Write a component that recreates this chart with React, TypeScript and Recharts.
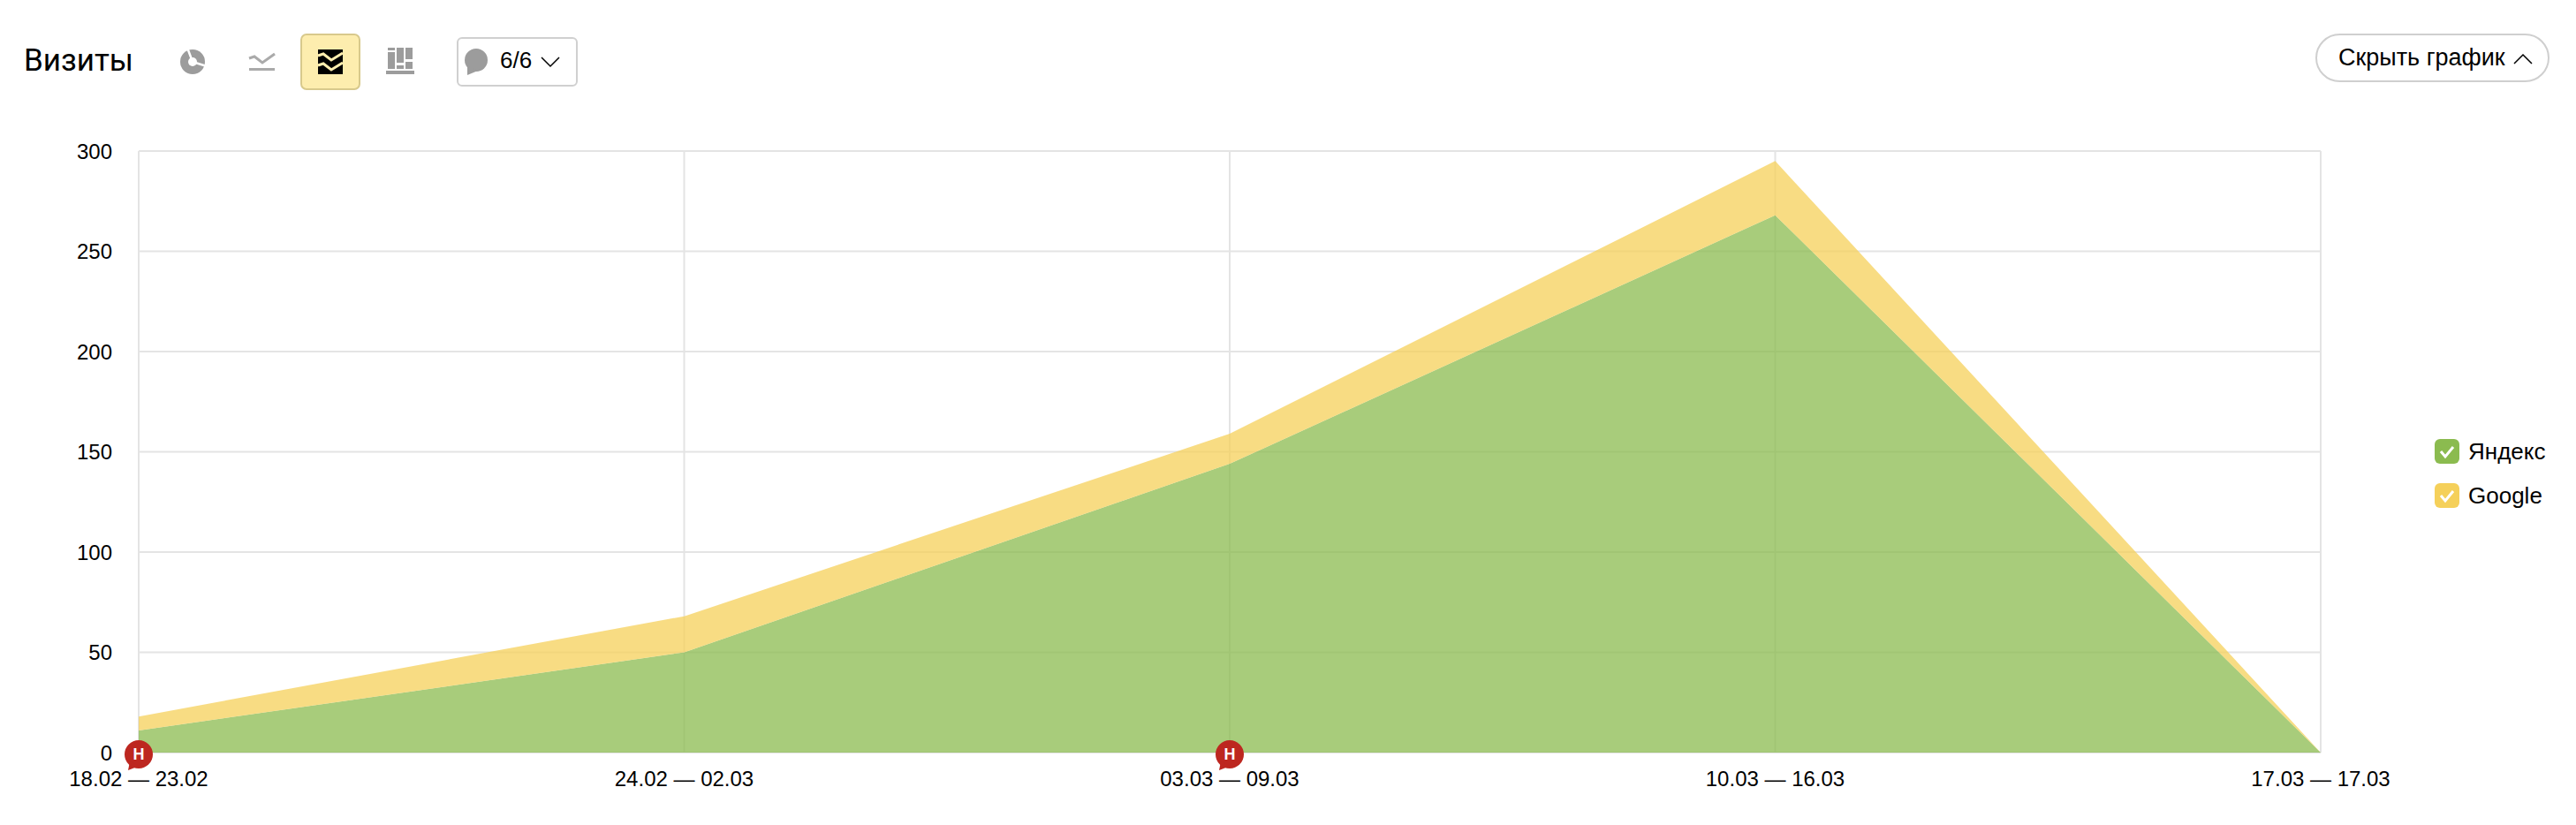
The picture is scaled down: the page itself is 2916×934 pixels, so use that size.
import { AreaChart, Area, XAxis, YAxis, CartesianGrid, Legend, ReferenceDot } from "recharts";

const periods = ["18.02 — 23.02", "24.02 — 02.03", "03.03 — 09.03", "10.03 — 16.03", "17.03 — 17.03"];
const yandexVisits = [11, 50, 144, 268, 0];
const googleVisits = [7, 18, 15, 27, 0];
const yTicks = [0, 50, 100, 150, 200, 250, 300];
const notePeriods = ["18.02 — 23.02", "03.03 — 09.03"];

const GREEN = "#8bbb4f";
const YELLOW = "#f5d05a";
const FONT = "'Liberation Sans', Arial, sans-serif";

const data = periods.map((period, i) => ({
    period,
    yandex: yandexVisits[i],
    google: googleVisits[i],
}));

function NoteMarker({ cx, cy }: any) {
    return (
        <g>
            <circle cx={cx} cy={cy + 2} r={16} fill="#bd2720" />
            <path d={`M${cx - 10} ${cy + 10} L${cx - 12} ${cy + 20} L${cx + 1} ${cy + 15} Z`} fill="#bd2720" />
            <text x={cx} y={cy + 8} textAnchor="middle" fontSize={18} fontWeight={700} fontFamily={FONT} fill="#fff">
                Н
            </text>
        </g>
    );
}

function SeriesLegend({ payload }: any) {
    return (
        <div style={{ fontFamily: FONT, fontSize: 26, color: "#000" }}>
            {(payload || []).map((entry: any) => (
                <div key={entry.value} style={{ display: "flex", alignItems: "center", height: 28, marginBottom: 22 }}>
                    <svg width={28} height={28} style={{ marginRight: 10 }}>
                        <rect width={28} height={28} rx={6} fill={entry.color} />
                        <path d="M7 14 L12 20 L21 9" fill="none" stroke="#fff" strokeWidth={3} />
                    </svg>
                    {entry.value}
                </div>
            ))}
        </div>
    );
}

function Header() {
    return (
        <div style={{ fontFamily: FONT, color: "#000" }}>
            <div style={{ position: "absolute", left: 27, top: 49, fontSize: 35, lineHeight: "40px", fontFamily: "Roboto, sans-serif" }}>
                Визиты
            </div>

            <svg width={700} height={110} style={{ position: "absolute", left: 0, top: 0 }}>
                {/* pie */}
                <circle cx={218} cy={70} r={14} fill="#9c9c9c" />
                <circle cx={218} cy={70} r={5} fill="#fff" />
                <path d="M218 70 L212 54 M218 70 L234 75" stroke="#fff" strokeWidth={2.5} />
                {/* line */}
                <path d="M282 66 L288 64 L297 71 L311 61" fill="none" stroke="#aaa" strokeWidth={3} />
                <rect x={282} y={77} width={29} height={3} fill="#aaa" />
                {/* active stacked */}
                <rect x={341} y={39} width={66} height={62} rx={6} fill="#fdedae" stroke="#d8c98c" strokeWidth={2} />
                <rect x={360} y={56} width={28} height={28} fill="#000" />
                <path d="M360 63 L366 61 L375 68 L388 60 M360 74 L366 72 L375 79 L388 71" fill="none" stroke="#fdedae" strokeWidth={3} />
                {/* bars */}
                <g fill="#9c9c9c">
                    <rect x={439} y={54} width={8} height={3} />
                    <rect x={439} y={59} width={8} height={19} />
                    <rect x={449} y={54} width={8} height={17} />
                    <rect x={449} y={74} width={8} height={4} />
                    <rect x={459} y={54} width={8} height={13} />
                    <rect x={459} y={70} width={8} height={8} />
                    <rect x={437} y={80} width={32} height={4} />
                </g>
                {/* notes dropdown */}
                <rect x={518} y={43} width={135} height={54} rx={5} fill="#fff" stroke="#d0d0d0" strokeWidth={2} />
                <circle cx={539} cy={68} r={13} fill="#9c9c9c" />
                <path d="M529 75 L529 85 L541 80 Z" fill="#9c9c9c" />
                <path d="M613 65 L623 75 L633 65" fill="none" stroke="#000" strokeWidth={1.5} />
            </svg>
            <div style={{ position: "absolute", left: 566, top: 53, fontSize: 26, lineHeight: "30px" }}>6/6</div>

            <div
                style={{
                    position: "absolute",
                    left: 2621,
                    top: 38,
                    width: 261,
                    height: 51,
                    border: "2px solid #cfcfcf",
                    borderRadius: 28,
                    boxSizing: "content-box",
                    fontSize: 27,
                    lineHeight: "50px",
                }}
            >
                <span style={{ position: "absolute", left: 24, top: 0, whiteSpace: "nowrap" }}>Скрыть график</span>
                <svg width={24} height={14} style={{ position: "absolute", left: 221, top: 20 }}>
                    <path d="M2 12 L12 2 L22 12" fill="none" stroke="#000" strokeWidth={1.5} />
                </svg>
            </div>
        </div>
    );
}

export default function App() {
    return (
        <div style={{ position: "absolute", left: 0, top: 0, width: 2916, height: 934, background: "#fff" }}>
            <AreaChart
                width={2916}
                height={934}
                data={data}
                margin={{ top: 171, right: 129, bottom: 52, left: 0 }}
            >
                <CartesianGrid stroke="#e4e4e4" strokeWidth={2} />
                <XAxis
                    dataKey="period"
                    interval={0}
                    axisLine={false}
                    tickLine={false}
                    tickMargin={15}
                    tick={{ fontSize: 24, fontFamily: FONT, fill: "#000" }}
                />
                <YAxis
                    width={157}
                    domain={[0, 300]}
                    ticks={yTicks}
                    axisLine={false}
                    tickLine={false}
                    tickSize={30}
                    tickMargin={0}
                    tick={{ fontSize: 24, fontFamily: FONT, fill: "#000" }}
                />
                <Legend
                    layout="vertical"
                    align="right"
                    verticalAlign="top"
                    itemSorter={null}
                    wrapperStyle={{ left: 2756, top: 497, width: 160, right: "auto" }}
                    content={<SeriesLegend />}
                />
                <Area
                    dataKey="yandex"
                    name="Яндекс"
                    stackId="visits"
                    type="linear"
                    stroke="none"
                    fill={GREEN}
                    fillOpacity={0.75}
                    isAnimationActive={false}
                />
                <Area
                    dataKey="google"
                    name="Google"
                    stackId="visits"
                    type="linear"
                    stroke="none"
                    fill={YELLOW}
                    fillOpacity={0.75}
                    isAnimationActive={false}
                />
                {notePeriods.map((period) => (
                    <ReferenceDot key={period} x={period} y={0} ifOverflow="visible" shape={<NoteMarker />} />
                ))}
            </AreaChart>
            <Header />
        </div>
    );
}
